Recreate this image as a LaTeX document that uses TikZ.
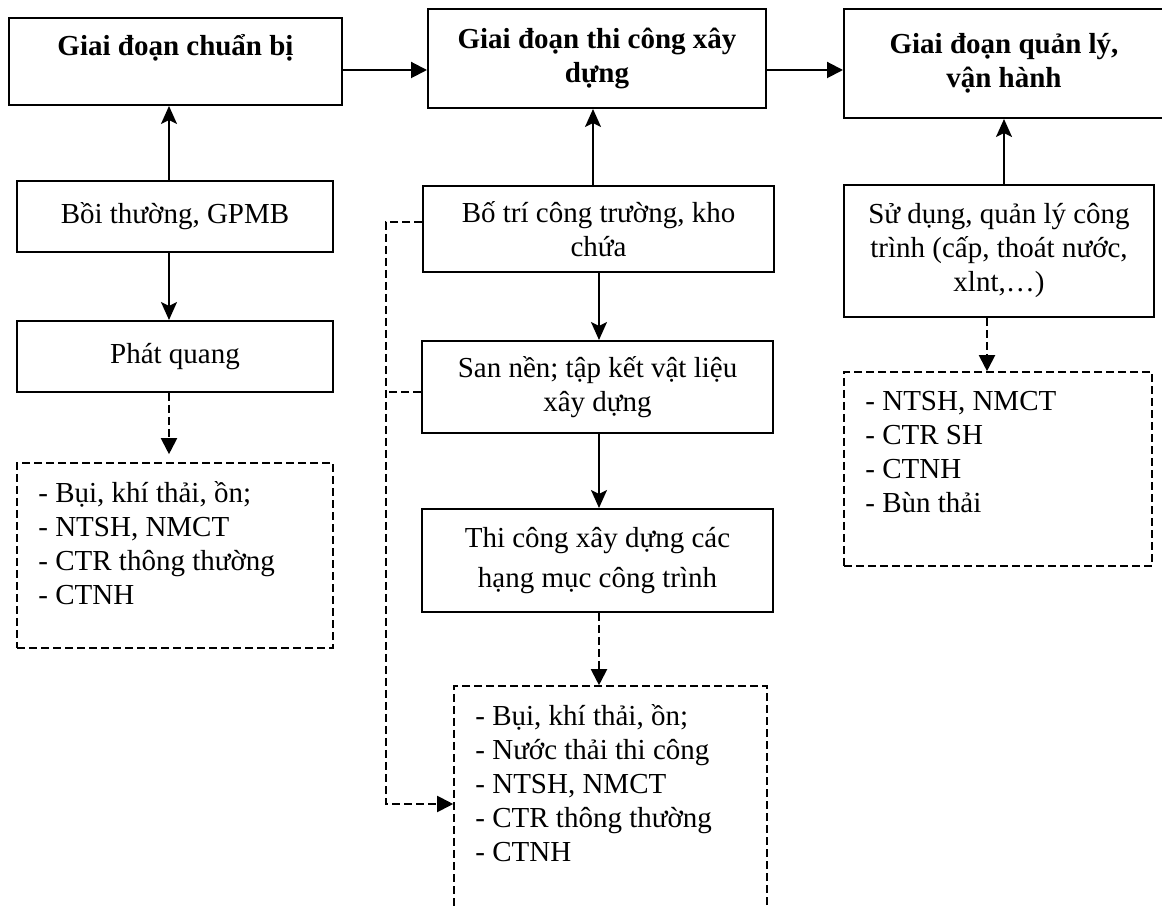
\documentclass[tikz,border=0pt]{standalone}
\usepackage{fontspec}
\setmainfont{Liberation Serif}
\usetikzlibrary{arrows.meta}
\begin{document}
\begin{tikzpicture}[x=0.5pt,y=-0.5pt,
  font=\fontsize{14.5}{17}\selectfont,
  box/.style={draw,line width=1pt,align=center,inner sep=0pt},
  dbox/.style={draw,line width=0.8pt,dash pattern=on 4pt off 2pt,inner sep=0pt},
  harr/.style={line width=1pt,-{Triangle[length=8pt,width=8pt]}},
  varr/.style={line width=1pt,-{Stealth[length=9pt,width=8pt,inset=2pt]}},
  darr/.style={line width=1pt,dash pattern=on 4pt off 2pt,-{Triangle[length=8pt,width=8pt]}},
  dline/.style={line width=1pt,dash pattern=on 4pt off 2pt},
  lst/.style={align=left,anchor=north west,inner sep=0pt}]
\useasboundingbox (0,0) rectangle (1162,908);
\fill[white] (0,0) rectangle (1162,908);

% top row
\node[box,minimum width=166.5pt,minimum height=43.5pt] (A) at (175.5,61.5)
  {\textbf{Giai đoạn chuẩn bị}\\~};
\node[box,minimum width=169pt,minimum height=49.5pt] (B) at (597,58.5)
  {\textbf{Giai đoạn thi công xây}\\\textbf{dựng}};
\node[box,minimum width=160pt,minimum height=54.5pt] (C) at (1004,63.5)
  {\textbf{Giai đoạn quản lý,}\\\textbf{vận hành}};

% left column
\node[box,minimum width=158pt,minimum height=35.5pt] (Boi) at (175,216.5) {Bồi thường, GPMB};
\node[box,minimum width=158pt,minimum height=35.5pt] (Phat) at (175,356.5) {Phát quang};
\node[dbox,minimum width=158pt,minimum height=92.5pt] (E1) at (175,555.5) {};
\node[lst] (E1t) at (38,478) {\strut- Bụi, khí thải, ồn;\\- NTSH, NMCT\\- CTR thông thường\\- CTNH};

% middle column
\node[box,minimum width=175.5pt,minimum height=43pt] (Botri) at (598.5,229) {Bố trí công trường, kho\\chứa};
\node[box,minimum width=175.5pt,minimum height=46pt] (San) at (597.5,387) {San nền; tập kết vật liệu\\xây dựng};
\node[box,minimum width=175.5pt,minimum height=51.5pt] (Thi) at (597.5,560.5) {Thi công xây dựng các\\[3pt]hạng mục công trình};
\node[dbox,minimum width=156.5pt,minimum height=127pt] (E2) at (610.5,813) {};
\node[lst] (E2t) at (475,701) {\strut- Bụi, khí thải, ồn;\\- Nước thải thi công\\- NTSH, NMCT\\- CTR thông thường\\- CTNH};

% right column
\node[box,minimum width=155pt,minimum height=66pt] (Sd) at (999,251) {Sử dụng, quản lý công\\trình (cấp, thoát nước,\\xlnt,…)};
\node[dbox,minimum width=154pt,minimum height=97pt] (E3) at (998,469) {};
\node[lst] (E3t) at (865,386) {\strut- NTSH, NMCT\\- CTR SH\\- CTNH\\- Bùn thải};

% helper coordinates
\coordinate (hrow) at (0,70);
\coordinate (c1) at (169,0);
\coordinate (c2u) at (593,0);
\coordinate (c2d) at (599,0);
\coordinate (c3u) at (1004,0);
\coordinate (c3d) at (987,0);
\coordinate (j1) at (386,222);
\coordinate (j2) at (386,804);
\coordinate (j3) at (386,392);

% connectors
\draw[harr] (A.east |- hrow) -- (B.west |- hrow);
\draw[harr] (B.east |- hrow) -- (C.west |- hrow);

\draw[varr] (Boi.north -| c1) -- (A.south -| c1);
\draw[varr] (Boi.south -| c1) -- (Phat.north -| c1);
\draw[darr,shorten >=4pt] (Phat.south -| c1) -- (E1.north -| c1);

\draw[varr] (Botri.north -| c2u) -- (B.south -| c2u);
\draw[varr] (Botri.south -| c2d) -- (San.north -| c2d);
\draw[varr] (San.south -| c2d) -- (Thi.north -| c2d);
\draw[darr] (Thi.south -| c2d) -- (E2.north -| c2d);
\draw[darr] (Botri.west |- j1) -- (j1) -- (j2) -- (E2.west |- j2);
\draw[dline] (San.west |- j3) -- (j3);

\draw[varr] (Sd.north -| c3u) -- (C.south -| c3u);
\draw[darr] (Sd.south -| c3d) -- (E3.north -| c3d);
\end{tikzpicture}
\end{document}
